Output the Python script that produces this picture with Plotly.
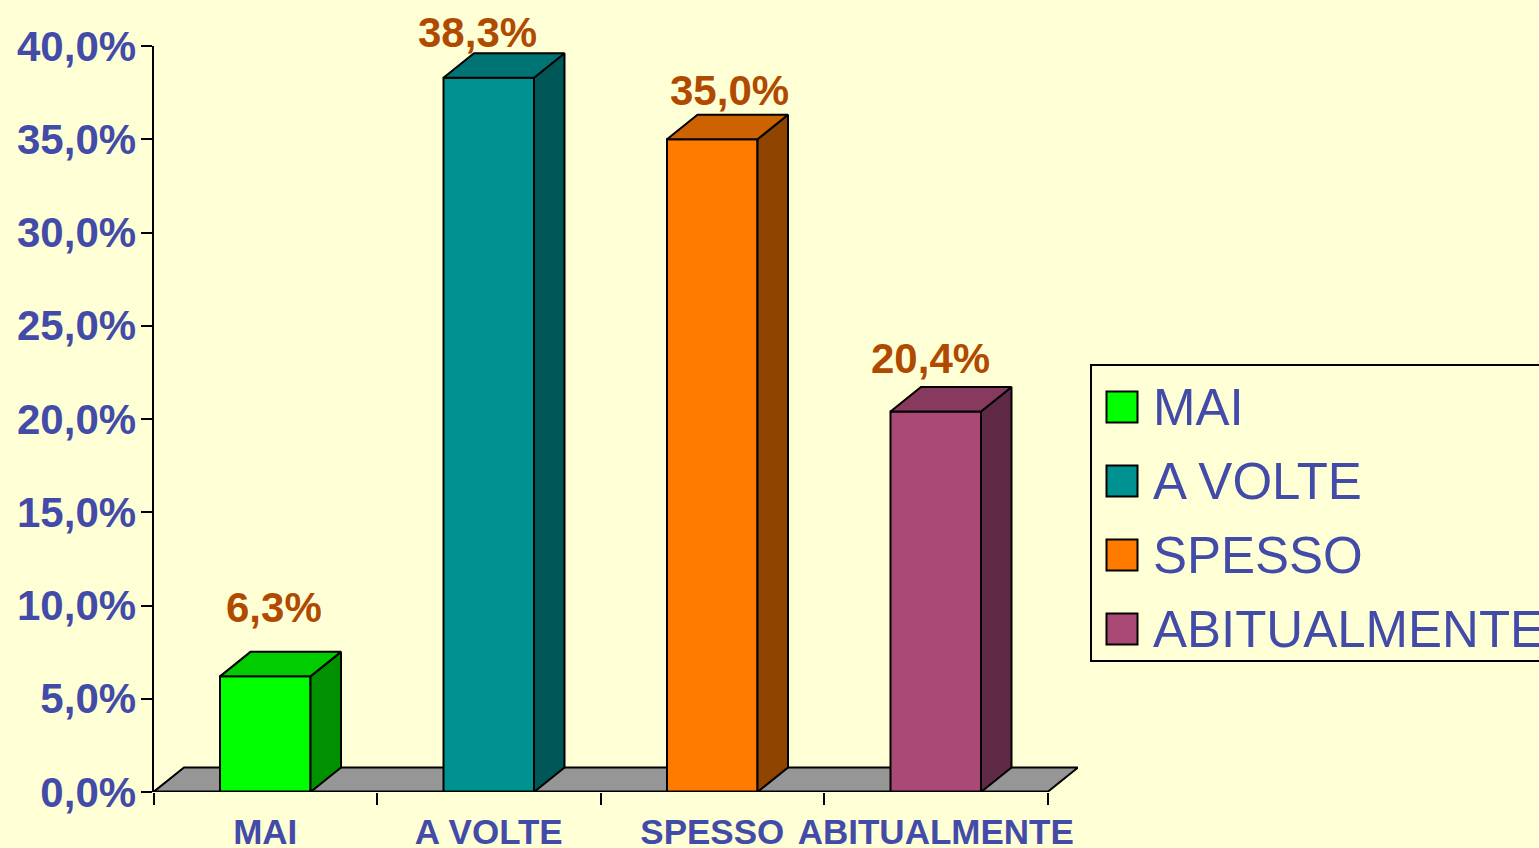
import plotly.graph_objects as go

# ---- data ----
categories = ["MAI", "A VOLTE", "SPESSO", "ABITUALMENTE"]
values = [6.2, 38.3, 35.0, 20.4]
value_labels = ["6,3%", "38,3%", "35,0%", "20,4%"]
y_ticks = [0, 5, 10, 15, 20, 25, 30, 35, 40]
y_tick_labels = ["0,0%", "5,0%", "10,0%", "15,0%", "20,0%", "25,0%", "30,0%", "35,0%", "40,0%"]

# ---- style ----
front_colors = ["#00FF00", "#009191", "#FF7B00", "#AA4876"]
top_colors = ["#00CC00", "#007474", "#CC6200", "#883A5E"]
side_colors = ["#009000", "#005757", "#8F4500", "#602945"]
BG = "#FFFFD6"
BLUE = "#434BA8"
LABEL = "#B04A00"
FLOOR = "#969696"
FONT = "Liberation Sans, Arial, sans-serif"
W, H = 1539, 848
L, R, T, B = 153.5, 1047.5, 46, 792
BAR_W = 90.5 / 223.5
DX = 30.5 / 223.5
DY = 24.5 / 746 * 40
label_shifts = [(9, 69), (-11, 45), (17, 49), (-5, 53)]

fig = go.Figure()
n = len(categories)
plot_right = L + (R - L) / n * (n + DX)


def poly(xs, ys, color):
    fig.add_trace(go.Scatter(x=xs, y=ys, mode="lines", fill="toself", fillcolor=color,
                             line=dict(color="black", width=2), hoverinfo="skip",
                             showlegend=False))


centers = [i + 0.5 for i in range(n)]

fig.add_trace(go.Bar(x=centers, y=values, width=BAR_W, marker=dict(color=front_colors,
                     line=dict(color="black", width=2)), hoverinfo="skip", showlegend=False))

for c, v, tc, sc in zip(centers, values, top_colors, side_colors):
    x0, x1 = c - BAR_W / 2, c + BAR_W / 2
    poly([x1, x1 + DX, x1 + DX, x1, x1], [0, DY, v + DY, v, 0], sc)
    poly([x0, x1, x1 + DX, x0 + DX, x0], [v, v, v + DY, v + DY, v], tc)

# base line of the floor, on top of the clip edge
fig.add_trace(go.Scatter(x=[0, n], y=[0, 0], mode="lines", cliponaxis=False,
                         line=dict(color="black", width=3), hoverinfo="skip", showlegend=False))

# legend, drawn in page pixels on an overlay axis pair
leg_y = [407, 481, 555, 629]
fig.add_trace(go.Scatter(x=[1122] * n, y=leg_y, xaxis="x2", yaxis="y2", mode="markers",
                         marker=dict(symbol="square", size=31, color=front_colors,
                                     line=dict(color="black", width=2)),
                         hoverinfo="skip", showlegend=False))
fig.add_trace(go.Scatter(x=[1153] * n, y=[v + 5 for v in leg_y], xaxis="x2", yaxis="y2", mode="text",
                         text=categories, textposition="middle right", cliponaxis=False,
                         textfont=dict(family=FONT, size=51, color=BLUE),
                         hoverinfo="skip", showlegend=False))

annotations = [
    dict(x=c, y=v, xref="x", yref="y", text=t, showarrow=False, xanchor="center", yanchor="middle",
         xshift=s[0], yshift=s[1], font=dict(family=FONT, size=42, color=LABEL, weight="bold"))
    for c, v, t, s in zip(centers, values, value_labels, label_shifts)
]

floor_path = f"M0,0 L{n},0 L{n + DX},{DY} L{DX},{DY} Z"

fig.update_layout(
    width=W, height=H, autosize=False,
    margin=dict(l=0, r=0, t=0, b=0),
    paper_bgcolor=BG, plot_bgcolor="rgba(0,0,0,0)",
    barmode="overlay",
    annotations=annotations,
    shapes=[
        dict(type="path", xref="x", yref="y", path=floor_path, fillcolor=FLOOR,
             line=dict(color="black", width=2), layer="below"),
        dict(type="rect", xref="x2", yref="y2", x0=1091, x1=1600, y0=365, y1=661,
             line=dict(color="black", width=2), fillcolor=BG, layer="below"),
    ],
    xaxis=dict(domain=[L / W, plot_right / W], range=[0, n + DX], tickmode="array", tickvals=centers,
               ticktext=categories, ticks="", showgrid=False, zeroline=False, automargin=False,
               showline=False, ticklabelstandoff=16,
               tickfont=dict(family=FONT, size=35, color=BLUE, weight="bold"), tickangle=0,
               minor=dict(tickmode="array", tickvals=list(range(n + 1)), ticks="outside",
                          ticklen=12, tickwidth=2, tickcolor="black", showgrid=False)),
    yaxis=dict(domain=[1 - B / H, 1 - T / H], range=[0, 40], tickmode="array", tickvals=y_ticks,
               ticktext=y_tick_labels, ticks="outside", ticklen=11, tickwidth=2,
               tickcolor="black", showgrid=False, zeroline=False, showline=True, automargin=False,
               linecolor="black", linewidth=2, ticklabelstandoff=-4,
               tickfont=dict(family=FONT, size=42, color=BLUE, weight="bold")),
    xaxis2=dict(domain=[0, 1], range=[0, W], visible=False, anchor="y2", automargin=False),
    yaxis2=dict(domain=[0, 1], range=[H, 0], visible=False, anchor="x2", automargin=False),
)

fig.write_html("out.html", config=dict(displayModeBar=False),
               post_script="document.body.style.margin='0';document.body.style.overflow='hidden';")
